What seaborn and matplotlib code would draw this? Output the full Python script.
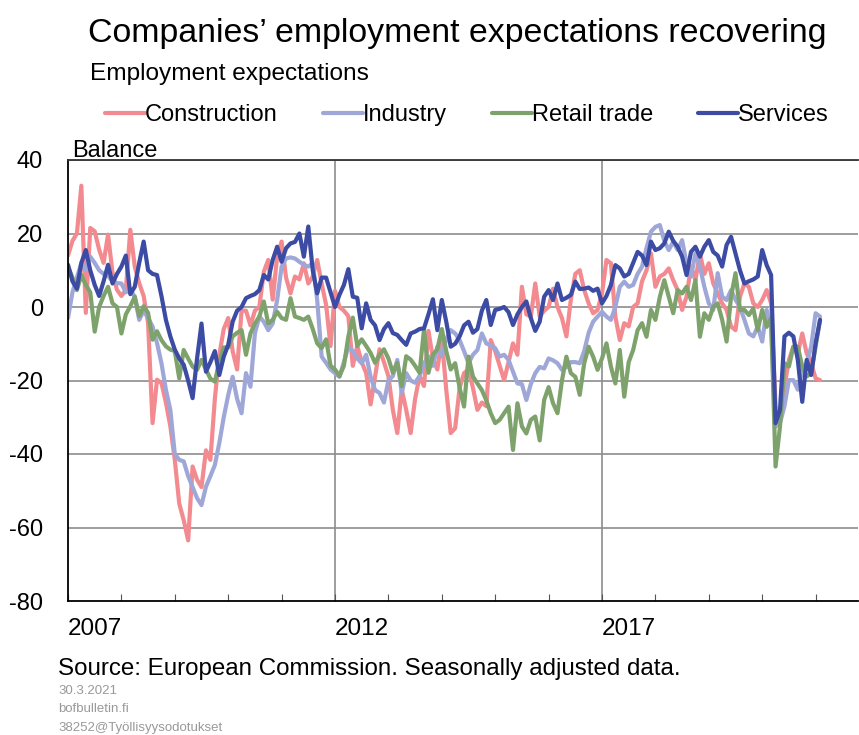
import numpy as np
import pandas as pd
import matplotlib
matplotlib.use("Agg")
import matplotlib.pyplot as plt
import seaborn as sns

# monthly balances, Jan 2007 - Feb 2021 (one row per year)
construction = [
    14, 18, 20, 33, -1.6, 21.5, 20.6, 15.6, 12, 19.7, 9.3, 4.7,
    3, 4.7, 21, 11, 6.5, 3, -4.4, -31.6, -19.8, -20.7, -26, -32.5,
    -41.6, -53.5, -58, -63.5, -43.4, -47, -49, -39, -41.6, -25, -13, -6,
    -3, -12, -17, -1, -1, -5, -1, 0, 9.6, 12.8, 2, 13.7,
    17.8, 8, 3.7, 8.3, 7.5, 11.9, 6.4, 8.3, 12.8, 6.4, 0.6, -10.6,
    4.4, 0, -1, -2.5, -16, -10.6, -15, -18, -26.5, -19, -11.5, -15,
    -18.8, -28, -34.3, -22.5, -28, -34.3, -25, -18.8, -21.5, -6.5, -14, -17,
    -8.8, -22.5, -34.3, -33, -22, -18, -17, -22, -28, -26, -27, -9,
    -12, -16, -19.9, -15, -9.9, -13, 5.5, -2, -2.6, 6.4, -2.6, -1,
    0, 5, 0, -3, -8, 2, 9, 10, 4.6, 1, -1.7, -0.8,
    3.7, 12.8, 11.9, -2.6, -9, -4.4, -5.3, 0, 1, 7, 10, 14.6,
    5.5, 8.3, 9, 10.5, 7.3, 4.6, -0.8, 2.8, 11, 7.3, 14.6, 9,
    11.9, 6.4, 3.7, 1, -0.8, -5.3, -6.3, 2.8, 6.4, 5.5, 1, 0,
    1.9, 4.6, 1, -27, -31, -21.7, -14.4, -10.8, -12.6, -7.2, -12.6, -15.3,
    -19.4, -19.9,
]
industry = [
    -3, 4, 8, 12, 10, 13.7, 12, 10, 9, 8.5, 7, 6.5,
    6.4, 4, 4.7, 2.8, -3.5, -1, -3, -5.3, -9.8, -15.3, -22.5, -28,
    -40, -41.6, -42, -46, -49, -52, -53.9, -48.9, -46, -43, -37, -30,
    -24, -19, -25, -28.9, -18, -21.7, -7.2, -2.6, -4, -6.3, -4.5, 1.9,
    11, 13.2, 13.5, 13.2, 12.3, 11.5, 11, 11.9, 1.9, -13.5, -15.2, -17,
    -18, -19, -15, -10.8, -12, -14, -15.3, -13, -19, -22.6, -23.4, -26,
    -20, -18.8, -14.4, -23.4, -18, -20, -20.6, -18.8, -15.3, -13.4, -16, -10.8,
    -13.4, -8.8, -6.3, -7.2, -9, -12, -15.3, -13, -11.7, -7.2, -9.9, -10.5,
    -11.2, -13.5, -13, -14.4, -17.6, -20.8, -21, -25.3, -21, -18, -16.3, -16.7,
    -14, -14.5, -15.3, -17.1, -16.3, -15, -15, -15.3, -12, -7, -4, -2.6,
    -1.3, -2.6, -3.5, 0, 5.5, 6.9, 5.5, 6, 9, 11, 16, 20.5,
    21.8, 22.3, 18, 15.5, 17.8, 15.5, 18.2, 11.9, 8.3, 14.6, 11, 5.5,
    1, -0.8, 9.2, 2.8, 1.9, 4.6, 2, 0, -3.5, -7.2, -8, -5.3,
    -9.4, -0.8, -5.3, -32.5, -31.6, -27, -19.9, -19.9, -22.5, -17.1, -15.3, -10.8,
    -1.7, -2.6,
]
retail = [
    11, 8, 4.6, 8.7, 6, 4, -6.7, 0, 3, 5.5, 1, 0,
    -7.2, -2, 0.2, 2.8, -2.5, 0.2, -1.6, -8.9, -6.6, -9, -10.7, -11.6,
    -12, -19.4, -11.7, -14, -16.2, -17.1, -14.4, -17, -19.5, -20.3, -15, -11,
    -11, -8, -7, -6.3, -13, -7.2, -4.5, -2.6, 1.5, -4.5, -3.5, -1.3,
    -3, -3.5, 2.4, -2.6, -3, -3.5, -2.6, -6, -9.9, -11.2, -8.8, -16,
    -17, -18.8, -16, -8, -2.9, -10.6, -8.8, -10.6, -12.5, -15.2, -13, -11.5,
    -14, -17.9, -15.2, -21.5, -13.4, -14.3, -16, -17.9, -6.1, -17.9, -13, -11.5,
    -6, -12, -17, -15.3, -22, -27.1, -13.5, -18.9, -20.8, -22.6, -25.4, -28.9,
    -31.6, -30.7, -28.9, -27.1, -38.9, -26.2, -32.5, -34.4, -30.7, -29.8, -36.3, -25.3,
    -21.8, -26.2, -28.9, -20, -13.5, -18, -19, -23.9, -15.3, -10.8, -13.5, -17.1,
    -14, -9.9, -16.2, -20.8, -11.7, -24.4, -15, -11.7, -6.3, -4.4, -8.1, -0.8,
    -3.5, 2.8, 7.3, 2.8, -1.7, 4.6, 3.7, 5.5, 1.9, 7.3, -8.1, -1.7,
    -3.5, 0, 1, -3.5, -9.4, 2.8, 9.2, -0.8, -0.8, -2.2, -0.4, -6.3,
    -0.8, -5.4, -3, -43.4, -32.5, -15.3, -16.2, -10.8, -10.8, -16.2, -18.9, -18,
    -10.8, -3.5,
]
services = [
    11.5, 7, 5, 12, 15.5, 10, 6, 3, 7, 11.5, 6.4, 9,
    11, 14, 3.5, 5.5, 12, 17.8, 10, 9, 8.7, 3, -3.5, -8,
    -11.6, -14, -15.7, -20, -24.8, -14, -4.5, -17.6, -15, -12, -18.5, -13.5,
    -10.3, -4, -1, 0, 2.4, 3, 3.5, 4.6, 8.7, 7.5, 12.8, 16.4,
    12.3, 16, 17.3, 17.7, 20, 13.7, 21.9, 10, 3.7, 8, 8, 4,
    0, 3.3, 6, 10.3, 2.8, 2.5, -5.8, 1, -3.5, -5, -9, -6,
    -4.4, -7.1, -7.6, -9, -10.3, -7.2, -6.7, -6, -5.8, -2, 2.1, -6.3,
    1.9, -4, -10.8, -10, -8, -5, -4, -7, -6, -1, 1.9, -4.9,
    -0.8, -0.5, 0, -1.4, -4.9, -2, 0, 1.5, -3, -6.5, -4, 2.8,
    4.6, 1.9, 6.4, 1.9, 2.5, 3.3, 6.9, 4.9, 5, 5.3, 4.4, 5,
    1, 3, 6, 11.4, 10.5, 8.3, 9, 12, 15, 14, 11.4, 17.8,
    15.5, 16, 17.3, 20.5, 18, 16.4, 13.7, 8.7, 15, 16.4, 13.7, 16.4,
    18.2, 15, 14, 11, 16.9, 19.1, 14.6, 10, 6.4, 7, 7.5, 8.3,
    15.5, 11.4, 8.7, -31.6, -28, -8, -7, -8, -14.4, -25.8, -14.4, -18.5,
    -9.9, -3.5,
]

series_names = ["Construction", "Industry", "Retail trade", "Services"]
colors = ["#f28a8f", "#9ea7d8", "#7ea26c", "#3c4ba3"]
year_labels = ["2007", "2012", "2017"]

n = len(services)
t = 2007 + np.arange(n) / 12
frames = []
for name, vals in zip(series_names, [construction, industry, retail, services]):
    frames.append(pd.DataFrame({"t": t, "value": vals, "series": name}))
df = pd.concat(frames, ignore_index=True)

sns.set_theme(style="white")
plt.rcParams["font.family"] = ["Liberation Sans", "DejaVu Sans"]
plt.rcParams["text.color"] = "black"
plt.rcParams["xtick.color"] = "black"
plt.rcParams["ytick.color"] = "black"

fig = plt.figure(figsize=(8.59, 7.35), dpi=100)
ax = fig.add_axes([68 / 859, 1 - 601 / 735, 790 / 859, 441 / 735])

sns.lineplot(data=df, x="t", y="value", hue="series", hue_order=series_names,
             palette=colors, linewidth=3.0, ax=ax, legend=False)

ax.set_xlim(2007, 2007 + 790 / 53.4)
ax.set_ylim(-80, 40)
ax.set_yticks(range(-80, 41, 20))
ax.set_yticklabels([str(v) for v in range(-80, 41, 20)], fontsize=17)
for v in range(-60, 41, 20):
    ax.axhline(v, color="#8c8c8c", lw=1.2, zorder=0)
for yr in [2012, 2017]:
    ax.axvline(yr, color="#8c8c8c", lw=1.2, zorder=0)

ax.set_xticks(range(2007, 2022), minor=True)
ax.set_xticks([2007.5, 2012.5, 2017.5])
ax.set_xticklabels(year_labels, fontsize=17.5)
ax.tick_params(axis="x", which="major", length=0, pad=12)
ax.tick_params(axis="x", which="minor", length=5, direction="in", color="#555555", width=0.8, bottom=True)
ax.tick_params(axis="y", length=0, pad=18)
ax.set_xlabel("")
ax.set_ylabel("")

for side in ["left", "bottom"]:
    ax.spines[side].set_color("black")
    ax.spines[side].set_linewidth(1.3)
ax.spines["top"].set_color("#333333")
ax.spines["top"].set_linewidth(1.3)
ax.spines["right"].set_visible(False)

fig.text(457 / 859, 1 - 42 / 735, "Companies’ employment expectations recovering",
         ha="center", va="baseline", fontsize=24.4)
fig.text(90 / 859, 1 - 80 / 735, "Employment expectations", ha="left", va="baseline", fontsize=17.6)
fig.text(72 / 859, 1 - 157 / 735, "Balance", ha="left", va="baseline", fontsize=17)

handles = [plt.Line2D([], [], color=c, lw=3) for c in colors]
fig.legend(handles, series_names, loc="center", bbox_to_anchor=(467 / 859, 1 - 115 / 735),
           ncol=4, frameon=False, fontsize=17, handlelength=1.7, handletextpad=0.0,
           columnspacing=1.9)

fig.text(58 / 859, 1 - 675 / 735, "Source: European Commission. Seasonally adjusted data.",
         ha="left", va="baseline", fontsize=17.4)
small = dict(ha="left", va="baseline", fontsize=9.5, color="#999999",
             family=["Liberation Sans Narrow", "Liberation Sans"])
fig.text(58 / 859, 1 - 694 / 735, "30.3.2021", **small)
fig.text(58 / 859, 1 - 712 / 735, "bofbulletin.fi", **small)
fig.text(58 / 859, 1 - 731 / 735, "38252@Työllisyysodotukset", **small)

fig.savefig("out.png", dpi=100)
